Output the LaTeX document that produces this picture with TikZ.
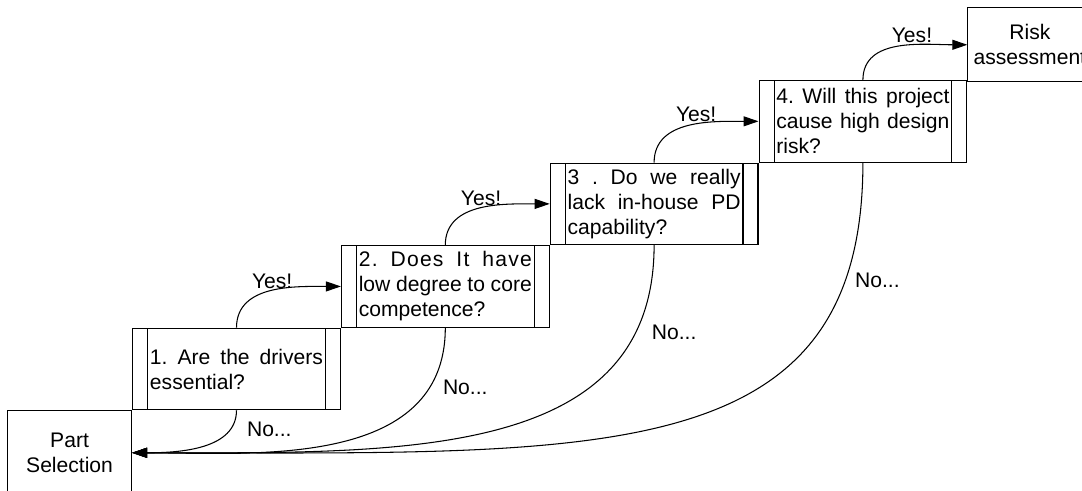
\documentclass[tikz,border=0pt]{standalone}
\usepackage{fontspec}
\setmainfont{Liberation Sans}
\usetikzlibrary{arrows.meta,positioning}

\begin{document}
\begin{tikzpicture}[>={Triangle[length=0.3cm,width=0.2cm]},line width=0.6pt,
font=\fontsize{12}{14.2}\selectfont\frenchspacing,
question/.style={draw,minimum width=4.155cm,minimum height=1.63cm,
    text width=3.46cm,align=justify,inner sep=0pt,
    path picture={\draw ([xshift=0.3cm]path picture bounding box.north west)
        -- ([xshift=0.3cm]path picture bounding box.south west)
        ([xshift=-0.3cm]path picture bounding box.north east)
        -- ([xshift=-0.3cm]path picture bounding box.south east);}},
terminal/.style={draw,minimum width=2.48cm,align=center,inner sep=0pt},
yes/.style={out=90,in=180},
no/.style={out=-90,in=0},
lbl/.style={inner sep=1pt}
]
\useasboundingbox (-4.73,-2.44) rectangle (16.91,7.38);

% the four questions, stepping up
\node[question] (Q1) {1. Are the drivers\linebreak essential?};
\node[question] (Q2) [above right=0cm and 0cm of Q1]
    {{\addfontfeature{LetterSpace=6}2. Does It have}\linebreak low degree to core\linebreak competence?};
\node[question] (Q3) [above right=0cm and 0cm of Q2]
    {3 . Do we really\linebreak lack in-house PD\linebreak capability?};
\node[question] (Q4) [above right=0cm and 0cm of Q3]
    {4. Will this project\linebreak cause high design\linebreak risk?};

% end points
\node[terminal,minimum height=1.68cm] (Part) [below left=0cm and 0cm of Q1] {Part\\Selection};
\node[terminal,minimum height=1.48cm] (Risk) [above right=-0.045cm and 0cm of Q4] {Risk\\assessment};

\path[->]
    (Q1) edge[yes] node[lbl,pos=0.5,above] {Yes!} (Q2)
         edge[no,out distance=0.78cm,in distance=0.96cm] node[lbl,pos=0.2,right=0.29cm] {No...} (Part)
    (Q2) edge[yes] node[lbl,pos=0.5,above] {Yes!} (Q3)
         edge[no,out distance=2.85cm,in distance=2.36cm] node[lbl,pos=0.17,right=0.22cm] {No...} (Part)
    (Q3) edge[yes] node[lbl,pos=0.55,above] {Yes!} (Q4)
         edge[no,out distance=4.33cm,in distance=5.36cm] node[lbl,pos=0.16,right=0.28cm] {No...} (Part)
    (Q4) edge[yes] node[lbl,pos=0.6,above] {Yes!} (Risk)
         edge[no,out distance=6.16cm,in distance=9.36cm] node[lbl,pos=0.15,right=0.15cm] {No...} (Part);
\end{tikzpicture}
\end{document}
